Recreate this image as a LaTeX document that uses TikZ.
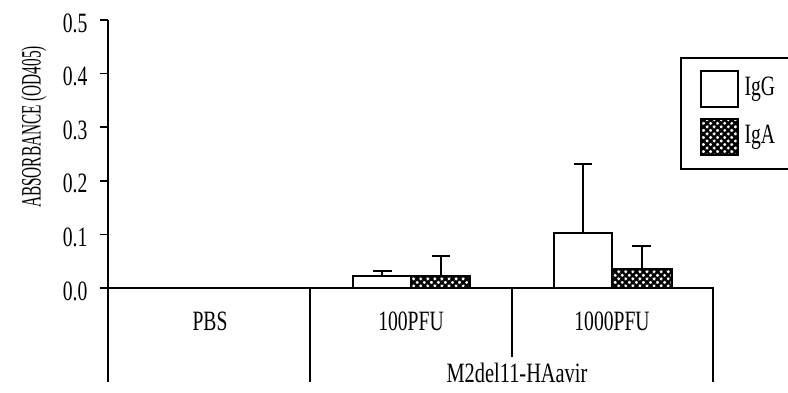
\documentclass[tikz,border=0pt]{standalone}
\usepackage{fontspec}
\setmainfont{Liberation Serif}
\usetikzlibrary{%
  patterns.meta,% Hatch pattern
  positioning% wg. " of "
}

\begin{document}
\begin{tikzpicture}[x=1pt,y=-1pt,line width=1.6pt,
    every node/.style={inner sep=0pt},
    lbl/.style={font=\fontsize{28}{28}\selectfont, xscale=0.7},
    igg/.style={draw, line width=2pt, fill=white},
    iga/.style={draw, line width=2pt, pattern={Hatch[angle=45,distance=5pt,line width=2.4pt]}},
    err/.style={line width=2pt}]
    \useasboundingbox (0,0) rectangle (788,392);

    %bars (data units)
    \begin{scope}[shift={(0,288)}, y=536pt]
     \draw[igg] (353,0) rectangle (411,0.022);
     \draw[iga] (411,0) rectangle (470,0.022);
     \draw[igg] (554,0) rectangle (612,0.103);
     \draw[iga] (612,0) rectangle (672,0.035);
     %error bars
     \draw[err] (382,0.022) -- (382,0.032) (373,0.032) -- (392,0.032);
     \draw[err] (441,0.022) -- (441,0.060) (432,0.060) -- (450,0.060);
     \draw[err] (583,0.103) -- (583,0.231) (574,0.231) -- (592,0.231);
     \draw[err] (642,0.035) -- (642,0.078) (632,0.078) -- (651,0.078);
    \end{scope}

    %axes
    \draw (108,20) -- (108,382);
    \draw (108,288) -- (713,288) -- (713,382);
    \draw (310,288) -- (310,382);
    \draw (512,288) -- (512,357);
    \foreach \v/\n in {0.0/0, 0.1/1, 0.2/2, 0.3/3, 0.4/4, 0.5/5}{
      \draw (100,{288-536*\v}) -- (108,{288-536*\v});
      \node[lbl, anchor=east] (t\n) at (88,{291-536*\v}) {\v};
    }
    \node[rotate=90, lbl, xscale=0.78] (ylab) at (34,127) {ABSORBANCE (OD405)};

    %groups
    \node[lbl] (pbs) at (210,321) {PBS};
    \node[lbl] (pfu100) at (411,321) {100PFU};
    \node[lbl] (pfu1000) at (612,321) {1000PFU};
    \node[lbl, xscale=1.04] (virus) at (517,373) {M2del11-HAavir};

    %legend
    \draw (788,58) -- (681,58) -- (681,169) -- (788,169);
    \node[igg, minimum width=37pt, minimum height=36pt] (keyG) at (719.5,89) {};
    \node[iga, minimum width=37pt, minimum height=36pt] (keyA) at (719.5,137) {};
    \node[lbl, right=5pt of keyG] (txtG) {IgG};
    \node[lbl, right=5pt of keyA] (txtA) {IgA};
\end{tikzpicture}
\end{document}
